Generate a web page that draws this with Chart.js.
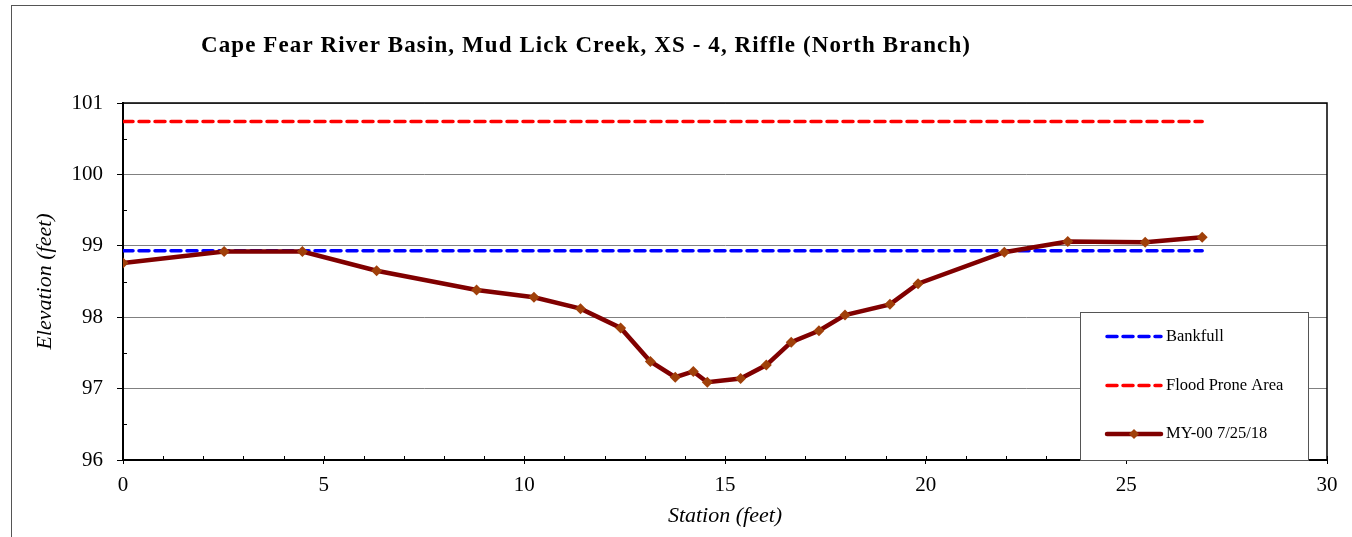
<!DOCTYPE html>
<html><head><meta charset="utf-8">
<script src="https://cdn.jsdelivr.net/npm/chart.js@4.4.0/dist/chart.umd.min.js"></script>
<style>html,body{margin:0;padding:0;background:#fff}#wrap{width:1352px;height:537px}</style>
</head><body><div id="wrap"><canvas id="c" width="1352" height="537"></canvas></div>
<script>
const chartTitle = 'Cape Fear River Basin, Mud Lick Creek, XS - 4, Riffle (North Branch)';
const xAxisTitle = 'Station (feet)';
const yAxisTitle = 'Elevation (feet)';
const seriesLabels = ['Bankfull', 'Flood Prone Area', 'MY-00 7/25/18'];
const stations = [0, 2.52, 4.47, 6.32, 8.81, 10.24, 11.4, 12.4, 13.14, 13.76, 14.21, 14.56, 15.39, 16.03, 16.65, 17.34, 17.99, 19.11, 19.81, 21.96, 23.54, 25.47, 26.89];
const elevations = [98.76, 98.92, 98.92, 98.65, 98.38, 98.28, 98.12, 97.85, 97.38, 97.16, 97.24, 97.09, 97.14, 97.33, 97.65, 97.81, 98.03, 98.18, 98.47, 98.91, 99.06, 99.05, 99.12];
const bankfullStations = [0, 26.89];
const bankfullElev = [98.93, 98.93];
const floodStations = [0, 26.89];
const floodElev = [100.74, 100.74];
const xTickValues = [0, 5, 10, 15, 20, 25, 30];
const yTickValues = [96, 97, 98, 99, 100, 101];

const SERIF = '"Liberation Serif", "Times New Roman", serif';
const toXY = (xs, ys) => xs.map((x, i) => ({x: x, y: ys[i]}));

const framePlugin = {
  id: 'frame',
  beforeDraw(chart) {
    const ctx = chart.ctx;
    ctx.save();
    ctx.fillStyle = '#fff';
    ctx.fillRect(0, 0, chart.width, chart.height);
    ctx.strokeStyle = '#555';
    ctx.lineWidth = 1;
    ctx.strokeRect(11.5, 5.5, chart.width + 20, chart.height + 20);
    ctx.restore();
  },
  afterDraw(chart) {
    const ctx = chart.ctx;
    const a = chart.chartArea;
    const xs = chart.scales.x, ys = chart.scales.y;
    ctx.save();
    // plot frame
    ctx.strokeStyle = '#000';
    ctx.lineWidth = 1.5;
    ctx.beginPath();
    ctx.moveTo(a.left, a.top); ctx.lineTo(a.right, a.top); ctx.lineTo(a.right, a.bottom);
    ctx.stroke();
    // minor ticks
    ctx.lineWidth = 1;
    ctx.beginPath();
    for (let v = xs.min; v <= xs.max; v += 1) {
      const px = Math.round(xs.getPixelForValue(v)) + 0.5;
      ctx.moveTo(px, a.bottom); ctx.lineTo(px, a.bottom - 4);
    }
    for (let v = ys.min + 0.5; v < ys.max; v += 1) {
      const py = Math.round(ys.getPixelForValue(v)) + 0.5;
      ctx.moveTo(a.left, py); ctx.lineTo(a.left + 4, py);
    }
    ctx.stroke();
    // title
    ctx.fillStyle = '#000';
    ctx.font = 'bold 23px ' + SERIF;
    ctx.textAlign = 'center';
    ctx.textBaseline = 'alphabetic';
    if ('letterSpacing' in ctx) ctx.letterSpacing = '1.1px';
    ctx.fillText(chartTitle, 586, 52);
    if ('letterSpacing' in ctx) ctx.letterSpacing = '0px';
    // legend
    const L = {x: 1080, y: 312, w: 228, h: 148};
    ctx.fillStyle = '#fff';
    ctx.fillRect(L.x, L.y, L.w, L.h);
    ctx.strokeStyle = '#555';
    ctx.lineWidth = 1;
    ctx.strokeRect(L.x + 0.5, L.y + 0.5, L.w, L.h);
    const rows = [336.5, 385.5, 434];
    chart.data.datasets.forEach((ds, i) => {
      const y = rows[i];
      ctx.save();
      ctx.strokeStyle = ds.borderColor;
      ctx.lineWidth = ds.borderWidth;
      ctx.lineCap = 'round';
      ctx.setLineDash(ds.borderDash || []);
      ctx.beginPath();
      ctx.moveTo(1107, y); ctx.lineTo(1161, y);
      ctx.stroke();
      ctx.restore();
      if (ds.pointRadius > 0) {
        ctx.save();
        ctx.fillStyle = ds.pointBackgroundColor;
        ctx.translate(1134, y);
        ctx.rotate(Math.PI / 4);
        const s = ds.pointRadius * 1.3;
        ctx.fillRect(-s / 2, -s / 2, s, s);
        ctx.restore();
      }
      ctx.fillStyle = '#000';
      ctx.font = '16.5px ' + SERIF;
      ctx.textAlign = 'left';
      ctx.textBaseline = 'middle';
      ctx.fillText(ds.label, 1166, y);
    });
    ctx.restore();
  }
};

new Chart(document.getElementById('c'), {
  type: 'scatter',
  data: {
    datasets: [
      {label: seriesLabels[0], data: toXY(bankfullStations, bankfullElev), showLine: true,
       borderColor: '#0000FF', borderWidth: 3.5, borderDash: [10, 6], borderCapStyle: 'round',
       pointRadius: 0, order: 2},
      {label: seriesLabels[1], data: toXY(floodStations, floodElev), showLine: true,
       borderColor: '#FF0000', borderWidth: 3.5, borderDash: [10, 6], borderCapStyle: 'round',
       pointRadius: 0, order: 3},
      {label: seriesLabels[2], data: toXY(stations, elevations), showLine: true,
       borderColor: '#800000', borderWidth: 4.5, pointStyle: 'rectRot', pointRadius: 5.5,
       pointBackgroundColor: '#A0400A', pointBorderColor: '#A0400A', pointBorderWidth: 0, order: 1}
    ]
  },
  options: {
    responsive: false,
    animation: false,
    layout: {padding: {left: 0, top: 103, right: 25, bottom: 0}},
    plugins: {legend: {display: false}, title: {display: false}, tooltip: {enabled: false}},
    scales: {
      x: {
        type: 'linear', min: 0, max: 30,
        afterBuildTicks: s => { s.ticks = xTickValues.map(v => ({value: v})); },
        afterFit: s => { s.height = 77; },
        grid: {drawOnChartArea: false, tickLength: 4, tickColor: '#000', color: '#000'},
        border: {color: '#000', width: 2},
        ticks: {color: '#000', font: {family: SERIF, size: 21}, padding: 9, maxRotation: 0},
        title: {display: true, text: xAxisTitle, color: '#000', font: {family: SERIF, size: 22, style: 'italic'}, padding: {top: 0, bottom: 8}}
      },
      y: {
        type: 'linear', min: 96, max: 101,
        afterBuildTicks: s => { s.ticks = yTickValues.map(v => ({value: v})); },
        afterFit: s => { s.width = 123; },
        grid: {color: '#808080', lineWidth: 1, tickLength: 6, tickColor: '#000'},
        border: {color: '#000', width: 2},
        ticks: {color: '#000', font: {family: SERIF, size: 21}, padding: 14},
        title: {display: true, text: yAxisTitle, color: '#000', font: {family: SERIF, size: 22, style: 'italic'}, padding: {top: 32, bottom: 0}}
      }
    }
  },
  plugins: [framePlugin]
});
</script>
</body></html>
